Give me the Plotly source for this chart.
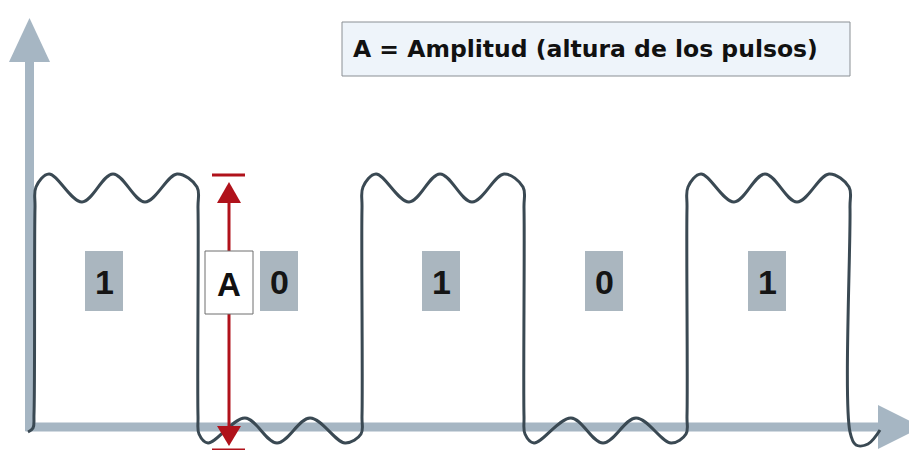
import plotly.graph_objects as go

# ---- data ----
bits = [1, 0, 1, 0, 1]
bit_edges = [35, 198, 362, 524, 687, 850]          # x of each level transition
label_x = [104, 279, 441, 604, 767]                 # centre of each bit label box
label_text = ["1", "0", "1", "0", "1"]

# ripple shape on the high level (offsets from segment start, y values)
high_dx = [14, 47, 78, 110, 142]
high_y = [174, 202, 174, 202, 174]
high_edge_dx = [0, 1]           # inset of the (lower, upper) edge points
high_edge_y = [208, 187]
# ripple shape on the low level
low_dx = [10, 47, 79, 112, 147]
low_y = [443, 418, 443, 418, 443]
low_edge_dx = [0, 1]
low_edge_y = [416, 434]

start_x = [28, 33, 34]
start_y = [432, 428, 414]
end_dx = [0, 6, 18, 30]
end_y = [432, 445, 444, 430]

axis_origin = [29.5, 427]
y_axis_top = 58
x_axis_end = 880

amp_x = 229
amp_top = 175
amp_bottom = 450

title_text = "A = Amplitud (altura de los pulsos)"

AXIS_COL = "#a6b6c3"
SIG_COL = "#3a4953"
RED = "#b0121b"
BOX_COL = "#aab6bf"

# ---- build signal path ----
xs, ys = list(start_x), list(start_y)
for i, b in enumerate(bits):
    x0, x1 = bit_edges[i], bit_edges[i + 1]
    if b == 1:
        edx, edy, rdx, rdy = high_edge_dx, high_edge_y, high_dx, high_y
    else:
        edx, edy, rdx, rdy = low_edge_dx, low_edge_y, low_dx, low_y
    xs += [x0 + d for d in edx] + [x0 + d for d in rdx] + [x1 - d for d in edx[::-1]]
    ys += edy + rdy + edy[::-1]
xs += [bit_edges[-1] + d for d in end_dx]
ys += end_y

fig = go.Figure()

# axes
fig.add_trace(go.Scatter(x=[axis_origin[0], axis_origin[0]], y=[axis_origin[1] + 4, y_axis_top],
                         mode="lines", line=dict(color=AXIS_COL, width=9), hoverinfo="skip"))
fig.add_trace(go.Scatter(x=[axis_origin[0] - 4, x_axis_end], y=[axis_origin[1], axis_origin[1]],
                         mode="lines", line=dict(color=AXIS_COL, width=9), hoverinfo="skip"))
fig.add_trace(go.Scatter(x=[9, 29.5, 50, 9], y=[62, 18, 62, 62], mode="lines", fill="toself",
                         fillcolor=AXIS_COL, line=dict(width=0, color=AXIS_COL), hoverinfo="skip"))
fig.add_trace(go.Scatter(x=[878, 922, 878, 878], y=[405, 427, 449, 405], mode="lines", fill="toself",
                         fillcolor=AXIS_COL, line=dict(width=0, color=AXIS_COL), hoverinfo="skip"))

# signal
fig.add_trace(go.Scatter(x=xs, y=ys, mode="lines",
                         line=dict(color=SIG_COL, width=3, shape="spline", smoothing=1),
                         hoverinfo="skip"))

# amplitude arrow
fig.add_trace(go.Scatter(x=[amp_x, amp_x], y=[198, 432], mode="lines",
                         line=dict(color=RED, width=3), hoverinfo="skip"))
fig.add_trace(go.Scatter(x=[amp_x - 17, amp_x + 16], y=[amp_top, amp_top], mode="lines",
                         line=dict(color=RED, width=3), hoverinfo="skip"))
fig.add_trace(go.Scatter(x=[amp_x - 17, amp_x + 16], y=[amp_bottom, amp_bottom], mode="lines",
                         line=dict(color=RED, width=3), hoverinfo="skip"))
fig.add_trace(go.Scatter(x=[amp_x - 12, amp_x, amp_x + 12, amp_x - 12], y=[203, 182, 203, 203],
                         mode="lines", fill="toself", fillcolor=RED,
                         line=dict(width=0, color=RED), hoverinfo="skip"))
fig.add_trace(go.Scatter(x=[amp_x - 12, amp_x, amp_x + 12, amp_x - 12], y=[426, 446, 426, 426],
                         mode="lines", fill="toself", fillcolor=RED,
                         line=dict(width=0, color=RED), hoverinfo="skip"))

shapes = []
annotations = []
for lx, t in zip(label_x, label_text):
    shapes.append(dict(type="rect", xref="x", yref="y", x0=lx - 19, x1=lx + 19, y0=251, y1=311,
                       fillcolor=BOX_COL, line=dict(width=0), layer="above"))
    annotations.append(dict(x=lx, y=282, xref="x", yref="y", text="<b>%s</b>" % t, showarrow=False,
                            font=dict(family="Liberation Sans, Arial", size=34, color="#151515")))

shapes.append(dict(type="rect", xref="x", yref="y", x0=205, x1=253, y0=251, y1=314,
                   fillcolor="white", line=dict(color="#6e6e6e", width=1), layer="above"))
annotations.append(dict(x=amp_x, y=284, xref="x", yref="y", text="<b>A</b>", showarrow=False,
                        font=dict(family="Liberation Sans, Arial", size=33, color="#111111")))

shapes.append(dict(type="rect", xref="x", yref="y", x0=342, x1=850, y0=22, y1=76,
                   fillcolor="#eef4fa", line=dict(color="#8a8f94", width=1), layer="above"))
annotations.append(dict(x=351, y=49, xref="x", yref="y", xanchor="left", text="<b>%s</b>" % title_text,
                        showarrow=False,
                        font=dict(family="DejaVu Sans", size=23.5, color="#111111")))

fig.update_layout(
    width=909, height=450, margin=dict(l=0, r=0, t=0, b=0),
    paper_bgcolor="white", plot_bgcolor="white", showlegend=False,
    xaxis=dict(range=[0, 909], visible=False, fixedrange=True),
    yaxis=dict(range=[450, 0], visible=False, fixedrange=True),
    shapes=shapes, annotations=annotations,
)

fig.write_html("out.html", config={"displayModeBar": False},
               post_script="document.body.style.margin='0';document.body.style.overflow='hidden';")
